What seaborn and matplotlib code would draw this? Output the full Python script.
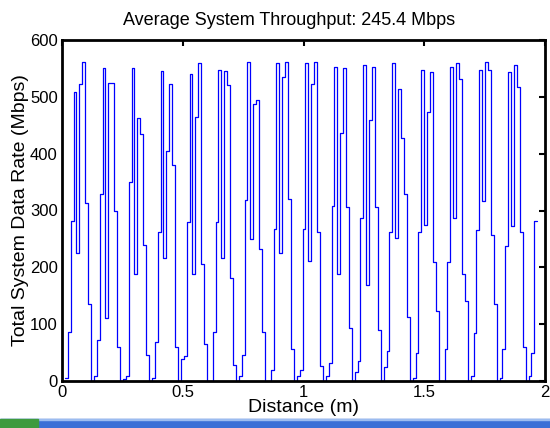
import numpy as np
import pandas as pd
import seaborn as sns
import matplotlib
matplotlib.use('Agg')
import matplotlib.pyplot as plt
from matplotlib.patches import Rectangle

# stair values of the total system data rate (Mbps), one per distance step
rate = [5, 87, 282, 508, 225, 522, 561, 313, 135, 0,
        9, 72, 329, 550, 111, 525, 525, 300, 59, 0,
        3, 8, 350, 550, 189, 463, 435, 239, 45, 0,
        5, 68, 262, 546, 216, 405, 522, 380, 59, 0,
        38, 44, 280, 541, 189, 464, 559, 205, 65, 0,
        0, 86, 279, 547, 216, 546, 520, 182, 28, 0,
        8, 45, 318, 561, 250, 488, 494, 233, 86, 0,
        0, 20, 267, 560, 225, 535, 561, 320, 56, 0,
        8, 20, 267, 559, 212, 522, 561, 263, 27, 0,
        9, 31, 308, 553, 189, 436, 550, 306, 94, 0,
        16, 35, 286, 556, 169, 460, 553, 306, 90, 0,
        24, 52, 263, 559, 251, 513, 428, 329, 113, 0,
        5, 50, 262, 547, 274, 473, 543, 209, 123, 0,
        0, 57, 209, 553, 286, 559, 532, 189, 141, 0,
        8, 84, 266, 547, 317, 561, 547, 257, 135, 0,
        5, 56, 238, 543, 272, 556, 518, 263, 60, 0,
        8, 49, 282]

step_width = 0.012   # metres per stair step
first_step = 0.012

distance = first_step + np.arange(len(rate) + 1) * step_width
data = pd.DataFrame({'Distance': distance, 'Rate': rate + [rate[-1]]})

x_ticks = [0, 0.5, 1, 1.5, 2]
x_labels = ['0', '0.5', '1', '1.5', '2']
y_ticks = [0, 100, 200, 300, 400, 500, 600]

sns.set_theme(style='white')
plt.rcParams['font.family'] = ['Liberation Sans', 'DejaVu Sans']

fig = plt.figure(figsize=(5.5, 4.28), dpi=100)
ax = fig.add_axes([62 / 550, 1 - 381 / 428, 483 / 550, 341 / 428])

sns.lineplot(data=data, x='Distance', y='Rate', drawstyle='steps-post',
             color='#0000ff', linewidth=0.9, estimator=None, ax=ax)

ax.set_xlim(0, 2)
ax.set_ylim(0, 600)
ax.set_xticks(x_ticks)
ax.set_xticklabels(x_labels)
ax.set_yticks(y_ticks)
ax.tick_params(direction='in', length=4, width=1.5, top=True, right=True,
               labelsize=12, colors='black', pad=3)
for s in ax.spines.values():
    s.set_color('black')
    s.set_linewidth(2)

ax.set_xlabel('Distance (m)', fontsize=14, labelpad=-1, color='black')
ax.set_ylabel('Total System Data Rate (Mbps)', fontsize=14, labelpad=1, color='black')
ax.set_title('Average System Throughput: 245.4 Mbps', fontsize=13, pad=11,
             color='black', x=0.47)

# taskbar strip at the bottom of the screenshot
fig.patches.append(Rectangle((0, 0), 1, 9 / 428, transform=fig.transFigure,
                             color='#3a6fd6', zorder=0))
fig.patches.append(Rectangle((0, 8 / 428), 1, 1 / 428, transform=fig.transFigure,
                             color='#9cbcf0', zorder=0))
fig.patches.append(Rectangle((0, 0), 38 / 550, 9 / 428, transform=fig.transFigure,
                             color='#3e9a3e', zorder=0))

fig.savefig('out.png', dpi=100)
